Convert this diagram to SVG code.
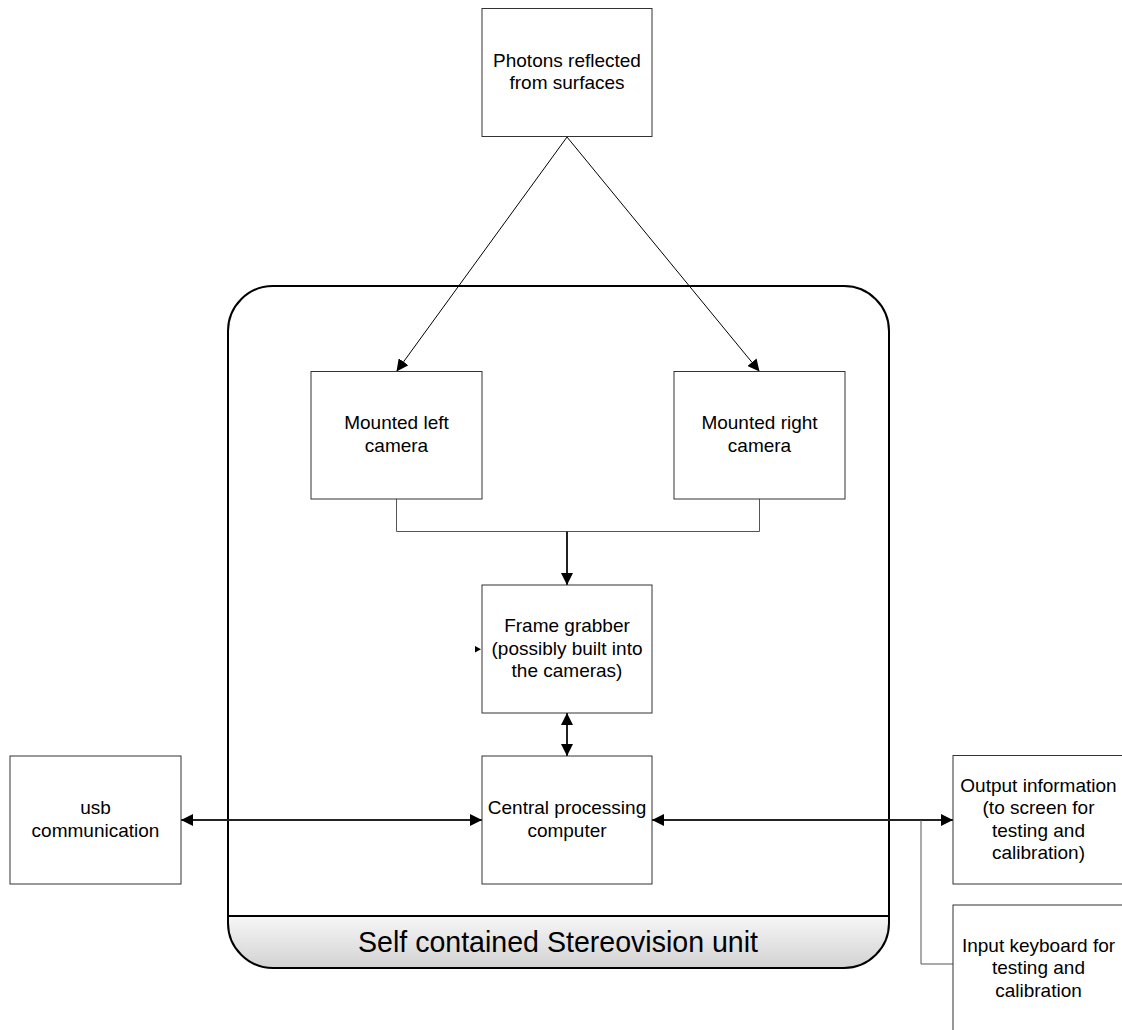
<svg xmlns="http://www.w3.org/2000/svg" width="1122" height="1030" viewBox="0 0 1122 1030">
<style>
.box{fill:#fff;stroke:#333;stroke-width:1}
.t{font-family:"Liberation Sans",Arial,sans-serif;font-size:19px;fill:#000;text-anchor:middle}
.thin{fill:none;stroke:#000;stroke-width:1}
.gray{fill:none;stroke:#555;stroke-width:1}
.thick{fill:none;stroke:#222;stroke-width:2}
</style>
<defs>
<marker id="ah" markerUnits="userSpaceOnUse" markerWidth="13" markerHeight="12" refX="12" refY="6" orient="auto-start-reverse" viewBox="0 0 13 12">
<path d="M0,0 L12,6 L0,12 z" fill="#000"/>
</marker>
<linearGradient id="band" x1="0" y1="0" x2="0" y2="1">
<stop offset="0" stop-color="#f7f7f7"/>
<stop offset="1" stop-color="#d2d2d2"/>
</linearGradient>
</defs>
<rect width="1122" height="1030" fill="#fff"/>

<g id="container">
<rect x="228" y="286" width="661" height="682" rx="45" ry="45" fill="#fff"/>
<path d="M228,916 H889 V923 A45,45 0 0 1 844,968 H273 A45,45 0 0 1 228,923 Z" fill="url(#band)"/>
<rect x="228" y="286" width="661" height="682" rx="45" ry="45" fill="none" stroke="#000" stroke-width="2"/>
<line x1="228" y1="916" x2="889" y2="916" stroke="#000" stroke-width="2"/>
<text x="558" y="952" font-family="Liberation Sans, Arial, sans-serif" font-size="30" text-anchor="middle" textLength="400" lengthAdjust="spacingAndGlyphs">Self contained Stereovision unit</text>
</g>

<g id="connectors">
<line class="thin" x1="567" y1="137" x2="396.5" y2="371.5" marker-end="url(#ah)"/>
<line class="thin" x1="567" y1="137" x2="759.5" y2="371.5" marker-end="url(#ah)"/>
<path class="gray" d="M396.5,499 V531.5 H759.5 V499"/>
<path class="thick" d="M567,531.5 V585" marker-end="url(#ah)"/>
<path class="thick" d="M567,713 V756" marker-start="url(#ah)" marker-end="url(#ah)"/>
<path class="thick" d="M181,820 H482" marker-start="url(#ah)" marker-end="url(#ah)"/>
<path class="thick" d="M652,820 H953" marker-start="url(#ah)" marker-end="url(#ah)"/>
<path class="gray" d="M921,820 V964 H953" stroke="#666"/>
<polygon points="475,646 481,649.3 475,652.6" fill="#000"/>
</g>

<g id="photons">
<rect class="box" x="482" y="8.5" width="170" height="128"/>
<text class="t" x="567" y="66.5">Photons reflected</text>
<text class="t" x="567" y="89">from surfaces</text>
</g>
<g id="left-camera">
<rect class="box" x="311" y="371.5" width="171" height="127.5"/>
<text class="t" x="396.5" y="428.5">Mounted left</text>
<text class="t" x="396.5" y="451.5">camera</text>
</g>
<g id="right-camera">
<rect class="box" x="674" y="371.5" width="171" height="127.5"/>
<text class="t" x="759.5" y="428.5">Mounted right</text>
<text class="t" x="759.5" y="451.5">camera</text>
</g>
<g id="frame-grabber">
<rect class="box" x="482" y="585" width="170" height="128"/>
<text class="t" x="567" y="632">Frame grabber</text>
<text class="t" x="567" y="654.5">(possibly built into</text>
<text class="t" x="567" y="677">the cameras)</text>
</g>
<g id="cpu">
<rect class="box" x="482" y="756" width="170" height="128"/>
<text class="t" x="567" y="814">Central processing</text>
<text class="t" x="567" y="837">computer</text>
</g>
<g id="usb">
<rect class="box" x="10" y="756" width="171" height="128"/>
<text class="t" x="95.5" y="814">usb</text>
<text class="t" x="95.5" y="837">communication</text>
</g>
<g id="output">
<rect class="box" x="953" y="755.5" width="171" height="128.5"/>
<text class="t" x="1038.5" y="791.5">Output information</text>
<text class="t" x="1038.5" y="814">(to screen for</text>
<text class="t" x="1038.5" y="836.5">testing and</text>
<text class="t" x="1038.5" y="859">calibration)</text>
</g>
<g id="input">
<rect class="box" x="953" y="905" width="171" height="128"/>
<text class="t" x="1038.5" y="951.5">Input keyboard for</text>
<text class="t" x="1038.5" y="974">testing and</text>
<text class="t" x="1038.5" y="996.5">calibration</text>
</g>
</svg>
